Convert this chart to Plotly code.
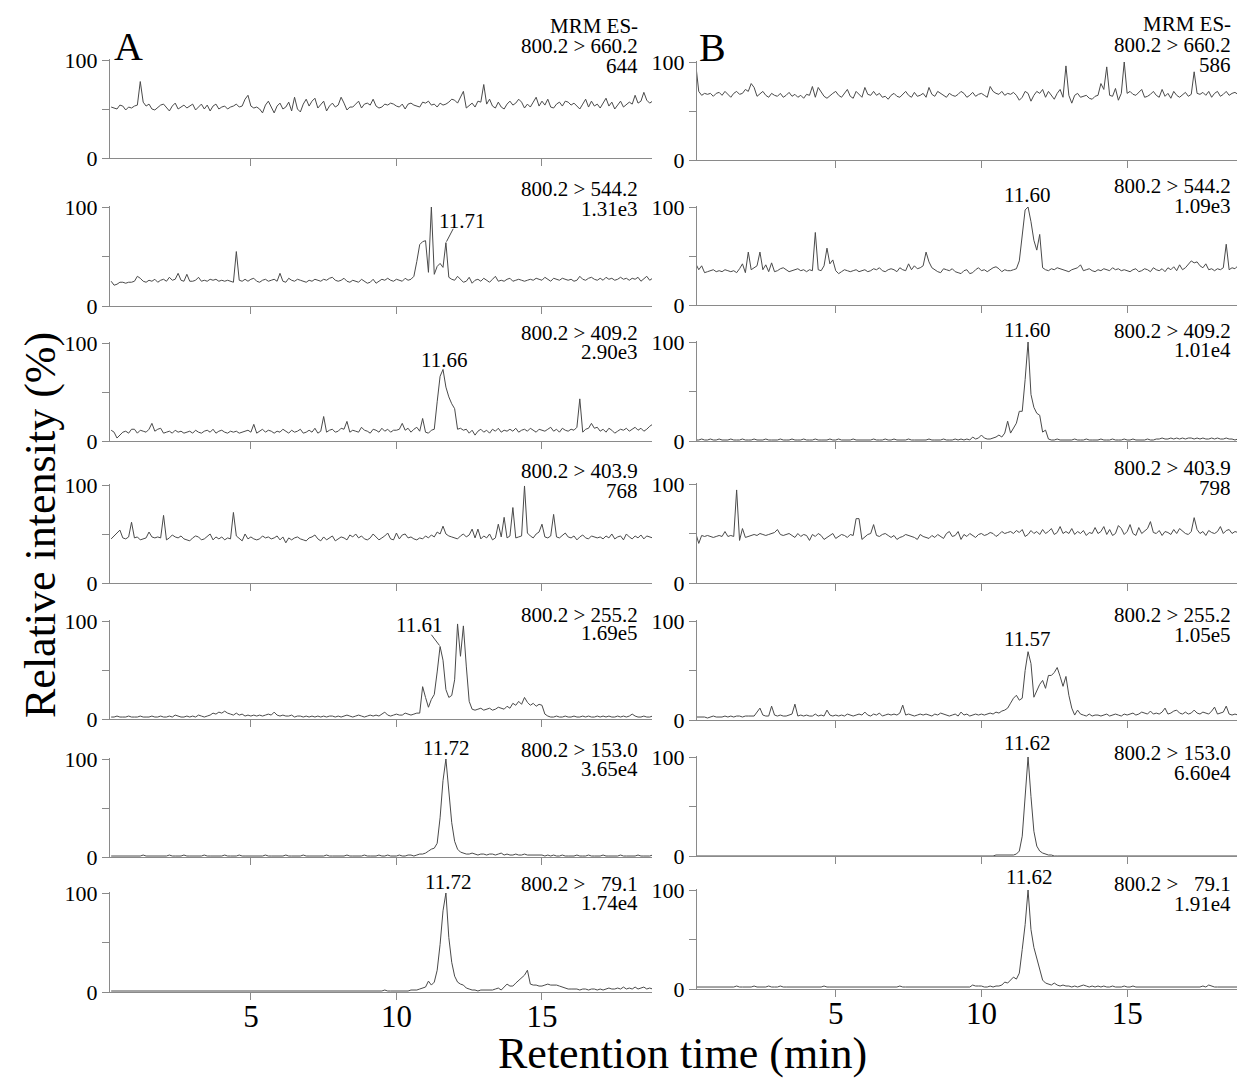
import plotly.graph_objects as go

W, H = 1238, 1080

# sampling times (min), 0.2 .. 18.8 every 0.1 min
TIME = [round(0.2 + 0.1 * i, 1) for i in range(187)]

# ---------------- Column A (relative intensity, %) ----------------
A1 = [52, 51, 50, 54, 53, 49, 52, 51,
      53, 54, 78, 57, 53, 55, 50, 49, 52, 54,
      55, 51, 48, 53, 56, 50, 52, 54, 51, 53,
      55, 49, 52, 55, 50, 54, 48, 53, 55, 50,
      52, 53, 50, 52, 53, 55, 52, 53, 60, 64,
      53, 51, 52, 50, 46, 54, 58, 52, 46, 53,
      56, 50, 52, 57, 48, 62, 50, 47, 55, 60,
      53, 58, 61, 51, 55, 58, 48, 53, 56, 52,
      54, 62, 56, 49, 52, 52, 55, 58, 51, 55,
      56, 54, 60, 53, 51, 52, 55, 54, 56, 55,
      53, 52, 55, 50, 55, 56, 54, 53, 52, 57,
      56, 58, 54, 55, 52, 56, 54, 55, 57, 60,
      59, 56, 62, 68, 51, 54, 56, 52, 58, 57,
      75, 55, 60, 53, 51, 57, 52, 50, 55, 58,
      54, 56, 60, 57, 51, 55, 52, 57, 62, 53,
      58, 54, 60, 52, 51, 55, 57, 53, 58, 57,
      54, 56, 53, 50, 55, 60, 52, 58, 53, 55,
      51, 56, 61, 53, 57, 50, 54, 58, 52, 55,
      57, 55, 64, 56, 58, 67, 59, 56, 58]

A2 = [25, 21, 22, 24, 24, 23, 24, 24,
      25, 30, 28, 25, 24, 26, 25, 27, 24, 26,
      27, 25, 29, 26, 27, 33, 26, 25, 32, 25,
      25, 26, 29, 25, 26, 25, 27, 26, 27, 25,
      26, 25, 26, 25, 24, 55, 26, 25, 27, 25,
      27, 28, 25, 24, 26, 27, 25, 26, 27, 25,
      33, 25, 24, 28, 26, 25, 27, 26, 25, 24,
      26, 25, 27, 26, 25, 27, 26, 28, 29, 26,
      25, 26, 28, 25, 24, 26, 25, 24, 27, 25,
      23, 24, 27, 23, 25, 27, 26, 28, 26, 25,
      27, 26, 25, 28, 26, 27, 30, 45, 62, 65,
      66, 34, 100, 32, 40, 43, 39, 64, 29, 27,
      26, 30, 27, 24, 25, 29, 23, 26, 27, 25,
      28, 26, 24, 27, 30, 25, 26, 25, 27, 28,
      25, 26, 27, 26, 25, 26, 27, 26, 28, 27,
      26, 29, 27, 25, 28, 27, 26, 28, 27, 26,
      27, 25, 26, 30, 27, 26, 28, 29, 27, 26,
      28, 26, 29, 27, 28, 26, 27, 29, 27, 28,
      26, 28, 27, 29, 25, 28, 30, 26, 28]

A3 = [11, 9, 3, 6, 9, 10, 8, 12,
      12, 8, 11, 10, 9, 12, 18, 10, 12, 13,
      8, 9, 10, 8, 11, 9, 10, 8, 9, 10,
      8, 11, 9, 8, 10, 11, 9, 12, 8, 10,
      11, 9, 8, 10, 9, 10, 8, 9, 10, 11,
      9, 17, 8, 10, 12, 9, 11, 10, 8, 10,
      9, 12, 10, 8, 11, 9, 10, 12, 8, 9,
      11, 9, 13, 8, 10, 25, 9, 11, 12, 9,
      10, 13, 12, 20, 9, 11, 10, 9, 14, 11,
      10, 8, 12, 11, 9, 13, 10, 12, 9, 11,
      11, 12, 18, 11, 13, 9, 12, 14, 10, 23,
      9, 8, 11, 12, 40, 66, 73, 55, 45, 38,
      33, 12, 13, 11, 12, 8, 11, 6, 10, 12,
      9, 11, 8, 12, 10, 13, 9, 11, 10, 12,
      10, 13, 9, 11, 12, 10, 13, 11, 9, 12,
      11, 10, 12, 14, 10, 12, 9, 13, 11, 10,
      12, 11, 14, 43, 9, 12, 13, 18, 13, 14,
      10, 12, 9, 13, 11, 8, 10, 12, 11, 13,
      10, 12, 14, 11, 13, 10, 12, 15, 17]

A4 = [45, 48, 50, 54, 46, 45, 47, 62,
      46, 47, 44, 45, 46, 52, 47, 46, 47, 46,
      69, 44, 46, 49, 47, 46, 48, 45, 44, 43,
      46, 48, 47, 44, 45, 48, 50, 44, 47, 45,
      47, 44, 46, 45, 72, 48, 45, 43, 50, 45,
      47, 45, 44, 45, 48, 46, 47, 45, 46, 48,
      44, 47, 41, 46, 44, 46, 47, 45, 44, 43,
      46, 47, 49, 45, 43, 47, 44, 46, 48, 43,
      45, 47, 46, 44, 49, 47, 50, 46, 48, 45,
      44, 46, 50, 47, 44, 46, 48, 51, 45, 44,
      51, 45, 49, 50, 46, 47, 45, 44, 46, 45,
      48, 46, 49, 47, 52, 50, 58, 50, 48, 47,
      46, 45, 48, 50, 47, 49, 55, 46, 55, 45,
      48, 46, 50, 44, 46, 60, 47, 67, 46, 48,
      77, 46, 47, 48, 99, 51, 48, 46, 50, 52,
      60, 47, 46, 48, 70, 47, 46, 49, 51, 47,
      46, 48, 44, 47, 49, 46, 45, 48, 47, 46,
      47, 45, 48, 46, 50, 45, 47, 48, 44, 50,
      47, 45, 48, 46, 49, 45, 48, 47, 46]

A5 = [2, 2, 3, 2, 2, 2, 3, 2,
      2, 2, 3, 2, 2, 2, 3, 2, 2, 3,
      2, 2, 3, 2, 4, 3, 2, 2, 3, 2,
      3, 2, 4, 3, 2, 3, 4, 6, 5, 7,
      6, 8, 6, 5, 4, 6, 4, 5, 3, 4,
      3, 4, 3, 4, 3, 4, 5, 4, 7, 4,
      3, 4, 3, 3, 4, 2, 3, 3, 2, 3,
      2, 3, 2, 3, 2, 3, 2, 3, 3, 2,
      3, 2, 3, 4, 3, 2, 3, 4, 3, 2,
      3, 4, 3, 4, 3, 5, 7, 4, 3, 4,
      5, 4, 4, 6, 5, 4, 5, 6, 6, 33,
      22, 12, 20, 25, 48, 74, 60, 30, 22, 24,
      40, 97, 64, 95, 54, 18, 10, 9, 10, 11,
      9, 10, 11, 9, 10, 12, 11, 10, 13, 11,
      16, 14, 18, 15, 22, 17, 14, 16, 13, 15,
      14, 5, 3, 2, 2, 3, 2, 2, 3, 2,
      2, 3, 2, 2, 3, 2, 3, 2, 2, 3,
      2, 3, 2, 3, 2, 2, 3, 2, 3, 2,
      3, 5, 3, 2, 2, 3, 2, 2, 3]

A6 = [1, 1, 1, 1, 1, 1, 1, 1,
      1, 1, 1, 2, 1, 1, 1, 1, 1, 1,
      1, 1, 2, 1, 1, 1, 1, 2, 1, 1,
      1, 1, 1, 1, 2, 1, 1, 1, 1, 1,
      1, 2, 1, 1, 1, 1, 2, 1, 1, 1,
      1, 1, 1, 1, 1, 2, 1, 1, 1, 1,
      1, 1, 2, 1, 1, 1, 1, 1, 2, 1,
      1, 1, 1, 1, 1, 1, 2, 1, 1, 1,
      1, 1, 1, 2, 1, 1, 1, 1, 1, 2,
      1, 1, 1, 1, 2, 1, 1, 2, 1, 1,
      1, 2, 1, 1, 2, 2, 1, 2, 3, 3,
      4, 6, 8, 9, 14, 40, 78, 100, 70, 35,
      16, 8, 5, 4, 3, 3, 4, 3, 2, 3,
      3, 2, 3, 3, 2, 3, 4, 2, 3, 2,
      2, 3, 2, 2, 3, 2, 2, 2, 2, 2,
      2, 1, 2, 1, 2, 1, 1, 2, 1, 1,
      1, 1, 2, 1, 1, 1, 2, 1, 1, 1,
      1, 2, 1, 1, 1, 1, 1, 2, 1, 1,
      1, 1, 1, 2, 1, 1, 1, 1, 2]

A7 = [1, 1, 1, 1, 1, 1, 1, 1,
      1, 1, 1, 1, 1, 1, 1, 1, 1, 1,
      1, 1, 1, 1, 1, 1, 1, 1, 1, 1,
      1, 1, 1, 1, 1, 1, 1, 1, 1, 1,
      1, 1, 1, 1, 1, 1, 1, 1, 1, 1,
      1, 1, 1, 1, 1, 1, 1, 1, 1, 1,
      1, 1, 1, 1, 1, 1, 1, 1, 1, 1,
      1, 1, 1, 1, 1, 1, 1, 1, 1, 1,
      1, 1, 1, 1, 1, 1, 1, 1, 1, 1,
      1, 1, 1, 1, 1, 1, 2, 1, 1, 1,
      1, 1, 1, 1, 1, 2, 2, 2, 3, 4,
      5, 11, 7, 10, 22, 48, 82, 100, 55, 30,
      16, 10, 8, 7, 4, 3, 2, 2, 1, 2,
      2, 2, 2, 2, 3, 4, 2, 5, 8, 6,
      6, 9, 12, 14, 17, 22, 8, 7, 7, 6,
      6, 7, 8, 7, 7, 7, 6, 5, 4, 3,
      3, 3, 3, 2, 3, 3, 2, 3, 3, 2,
      3, 2, 3, 4, 3, 3, 4, 3, 5, 3,
      4, 3, 5, 3, 4, 5, 3, 4, 3]

# ---------------- Column B (relative intensity, %) ----------------
B1 = [97, 70, 66, 68, 67, 68, 65, 68,
      69, 66, 70, 67, 64, 68, 70, 67, 68, 72,
      70, 78, 74, 65, 68, 70, 66, 64, 68, 66,
      65, 68, 64, 66, 69, 65, 67, 64, 66, 63,
      67, 66, 75, 64, 74, 70, 65, 63, 66, 68,
      70, 66, 64, 68, 72, 65, 63, 70, 67, 64,
      74, 67, 66, 70, 66, 68, 64, 65, 62, 66,
      68, 65, 64, 67, 70, 66, 64, 69, 65, 66,
      68, 64, 74, 67, 65, 70, 68, 66, 64, 68,
      66, 65, 67, 70, 68, 64, 66, 69, 65, 67,
      68, 66, 64, 75, 70, 68, 67, 70, 66, 68,
      67, 69, 66, 61, 64, 70, 68, 60, 66, 70,
      68, 72, 64, 70, 66, 62, 68, 72, 64, 96,
      66, 58, 66, 68, 64, 65, 66, 63, 62, 65,
      66, 78, 72, 95, 66, 65, 73, 61, 68, 100,
      68, 70, 67, 66, 69, 72, 64, 65, 67, 70,
      66, 64, 72, 65, 68, 63, 70, 66, 64, 67,
      69, 65, 67, 90, 68, 67, 69, 66, 70, 64,
      68, 70, 65, 67, 70, 66, 68, 69, 67]

B2 = [42, 36, 40, 33, 34, 35, 36, 34,
      35, 34, 36, 35, 34, 35, 33, 37, 42, 33,
      54, 36, 38, 40, 54, 36, 41, 34, 43, 34,
      35, 37, 38, 36, 34, 35, 36, 37, 35, 36,
      34, 36, 35, 74, 36, 35, 40, 58, 42, 46,
      35, 32, 34, 36, 35, 34, 35, 36, 34, 35,
      36, 34, 35, 37, 36, 38, 35, 34, 36, 37,
      36, 34, 38, 36, 35, 42, 36, 40, 37, 38,
      40, 54, 44, 38, 36, 34, 33, 37, 36, 35,
      37, 34, 33, 32, 35, 36, 32, 33, 36, 38,
      35, 36, 34, 36, 38, 39, 37, 34, 36, 35,
      35, 36, 37, 45, 70, 97, 100, 85, 66, 56,
      72, 38, 36, 35, 37, 36, 38, 37, 36, 35,
      34, 36, 37, 38, 41, 35, 36, 37, 35, 34,
      36, 35, 37, 36, 35, 38, 36, 37, 35, 36,
      35, 34, 36, 37, 34, 35, 37, 36, 34, 38,
      36, 35, 37, 34, 38, 36, 39, 35, 41, 36,
      38, 42, 45, 43, 44, 40, 38, 42, 36, 37,
      35, 37, 36, 38, 62, 36, 38, 37, 40]

B3 = [1, 1, 2, 1, 1, 2, 1, 1,
      2, 1, 1, 1, 2, 1, 1, 1, 2, 1,
      1, 1, 2, 1, 1, 1, 2, 1, 1, 1,
      1, 2, 1, 1, 1, 2, 1, 1, 1, 2,
      1, 1, 1, 2, 1, 1, 1, 1, 2, 1,
      1, 2, 1, 1, 1, 1, 2, 1, 1, 1,
      1, 1, 1, 2, 1, 1, 1, 2, 1, 1,
      2, 1, 1, 1, 1, 2, 1, 1, 1, 1,
      1, 1, 2, 1, 1, 1, 1, 2, 1, 1,
      1, 2, 1, 2, 1, 2, 1, 4, 2, 3,
      6, 3, 2, 2, 3, 4, 6, 4, 8, 20,
      8, 13, 18, 30, 30, 62, 100, 47, 34, 28,
      26, 9, 11, 2, 1, 1, 2, 1, 1, 1,
      1, 1, 2, 1, 1, 1, 2, 1, 1, 1,
      1, 2, 1, 1, 1, 2, 1, 1, 1, 2,
      1, 1, 2, 1, 1, 1, 1, 2, 1, 1,
      2, 2, 3, 2, 2, 3, 2, 3, 2, 3,
      2, 3, 3, 2, 3, 2, 3, 2, 2, 3,
      2, 3, 2, 2, 3, 2, 2, 1, 2]

B4 = [50, 40, 48, 47, 48, 47, 46, 47,
      48, 47, 52, 47, 48, 47, 94, 43, 55, 46,
      47, 48, 49, 48, 50, 49, 48, 49, 50, 51,
      54, 49, 48, 49, 50, 48, 46, 50, 47, 49,
      48, 43, 49, 47, 50, 48, 44, 46, 48, 50,
      45, 47, 49, 48, 46, 49, 48, 65, 65, 44,
      47, 49, 50, 59, 48, 47, 49, 50, 48, 46,
      48, 44, 46, 47, 49, 48, 47, 46, 44, 49,
      47, 46, 45, 48, 46, 49, 47, 45, 50, 52,
      47, 48, 52, 44, 49, 47, 50, 48, 46, 49,
      50, 48, 49, 51, 50, 47, 49, 52, 50, 51,
      52, 50, 53, 51, 54, 47, 49, 53, 50, 52,
      49, 54, 50, 52, 55, 49, 51, 57, 50, 52,
      50, 55, 49, 52, 50, 53, 48, 51, 50, 56,
      50, 52, 57, 49, 54, 48, 50, 58, 55, 49,
      52, 59, 50, 48, 56, 50, 53, 55, 62, 51,
      50, 53, 48, 52, 51, 49, 54, 50, 55, 52,
      50, 49, 52, 66, 54, 50, 52, 48, 53, 51,
      50, 52, 57, 50, 53, 54, 50, 52, 51]

B5 = [3, 3, 3, 3, 2, 3, 4, 3,
      3, 3, 4, 3, 4, 3, 4, 4, 3, 4,
      4, 4, 4, 8, 12, 5, 4, 4, 14, 5,
      4, 5, 4, 4, 5, 6, 16, 4, 5, 4,
      5, 4, 4, 6, 4, 5, 4, 10, 5, 4,
      5, 4, 5, 4, 6, 5, 4, 5, 6, 5,
      8, 5, 4, 6, 5, 7, 4, 5, 6, 5,
      6, 5, 7, 15, 5, 6, 5, 4, 5, 6,
      5, 6, 5, 4, 6, 5, 7, 6, 5, 4,
      5, 6, 4, 8, 5, 6, 4, 5, 6, 5,
      6, 5, 6, 7, 6, 8, 7, 9, 10, 12,
      17, 22, 25, 20, 22, 50, 69, 57, 23, 30,
      36, 40, 32, 45, 45, 48, 53, 44, 34, 44,
      25, 12, 5, 10, 6, 5, 4, 6, 4, 5,
      5, 4, 5, 6, 4, 5, 6, 5, 4, 6,
      5, 6, 7, 5, 6, 8, 7, 6, 9, 6,
      7, 6, 8, 12, 6, 7, 9, 10, 7, 6,
      8, 6, 7, 10, 7, 6, 8, 7, 6, 9,
      13, 6, 7, 8, 14, 6, 5, 6, 5]

B6 = [0, 0, 0, 0, 0, 0, 0, 0,
      0, 0, 0, 0, 0, 0, 0, 0, 0, 0,
      0, 0, 0, 0, 0, 0, 0, 0, 0, 0,
      0, 0, 0, 0, 0, 0, 0, 0, 0, 0,
      0, 0, 0, 0, 0, 0, 0, 0, 0, 0,
      0, 0, 0, 0, 0, 0, 0, 0, 0, 0,
      0, 0, 0, 0, 0, 0, 0, 0, 0, 0,
      0, 0, 0, 0, 0, 0, 0, 0, 0, 0,
      0, 0, 0, 0, 0, 0, 0, 0, 0, 0,
      0, 0, 0, 0, 0, 0, 0, 0, 0, 0,
      0, 0, 0, 0, 0, 1, 1, 1, 1, 1,
      1, 1, 2, 5, 20, 65, 100, 60, 25, 10,
      5, 3, 2, 1, 1, 0, 0, 0, 0, 0,
      0, 0, 0, 0, 0, 0, 0, 0, 0, 0,
      0, 0, 0, 0, 0, 0, 0, 0, 0, 0,
      0, 0, 0, 0, 0, 0, 0, 0, 0, 0,
      0, 0, 0, 0, 0, 0, 0, 0, 0, 0,
      0, 0, 0, 0, 0, 0, 0, 0, 0, 0,
      0, 0, 0, 0, 0, 0, 0, 0, 0]

B7 = [2, 2, 2, 2, 2, 2, 2, 2,
      2, 2, 2, 2, 2, 2, 3, 2, 2, 2,
      2, 2, 3, 2, 2, 2, 2, 3, 2, 2,
      2, 3, 2, 2, 2, 2, 2, 2, 2, 2,
      2, 2, 2, 2, 2, 2, 3, 2, 2, 2,
      2, 2, 2, 2, 2, 2, 2, 2, 2, 2,
      2, 2, 2, 2, 2, 2, 2, 2, 2, 2,
      2, 2, 3, 2, 2, 2, 2, 2, 2, 2,
      2, 2, 2, 2, 2, 2, 2, 2, 2, 2,
      2, 2, 2, 2, 2, 2, 2, 4, 3, 3,
      3, 2, 2, 3, 2, 3, 3, 4, 7, 6,
      9, 12, 10, 16, 40, 65, 100, 60, 42, 30,
      20, 9, 6, 5, 4, 6, 4, 3, 4, 3,
      3, 2, 3, 2, 3, 4, 3, 2, 3, 2,
      3, 2, 3, 2, 2, 3, 2, 2, 2, 3,
      2, 2, 3, 2, 2, 2, 2, 2, 2, 2,
      2, 2, 2, 2, 2, 2, 2, 2, 2, 2,
      2, 2, 2, 2, 2, 2, 3, 2, 4, 3,
      2, 2, 2, 2, 2, 2, 2, 2, 2]

TRANSITIONS = ["800.2 > 660.2", "800.2 > 544.2", "800.2 > 409.2", "800.2 > 403.9",
               "800.2 > 255.2", "800.2 > 153.0", "800.2 > \u00a0\u00a079.1"]
INTENS_A = ["644", "1.31e3", "2.90e3", "768", "1.69e5", "3.65e4", "1.74e4"]
INTENS_B = ["586", "1.09e3", "1.01e4", "798", "1.05e5", "6.60e4", "1.91e4"]
PEAKS_A = [None, "11.71", "11.66", None, "11.61", "11.72", "11.72"]
PEAKS_B = [None, "11.60", "11.60", None, "11.57", "11.62", "11.62"]
X_TICKS = [5, 10, 15]

SERIES_A = [A1, A2, A3, A4, A5, A6, A7]
SERIES_B = [B1, B2, B3, B4, B5, B6, B7]
for s in SERIES_A + SERIES_B:
    assert len(s) == len(TIME), len(s)

# ---------------- layout (pixel geometry) ----------------
FONT = "Liberation Serif"
LINE_C = "#4a4a4a"
AXIS_C = "#8a8a8a"

COLS = {
    "A": dict(x=(110, 652), xr=[0.16, 18.78], right=640,
              rows=[(158, 60), (306, 207), (441, 343), (583, 485), (719, 621), (857, 759), (992, 893)],
              txt=[(46, 66), (189, 209), (333, 352), (471, 491), (615, 633), (750, 769), (884, 903)],
              peak=[None, (12.25, 221), (11.62, 360), None, (10.77, 625), (11.72, 748), (11.76, 882)],
              series=SERIES_A, intens=INTENS_A, peaks=PEAKS_A, mrm_y=26, letter="A", letter_xy=(128, 46)),
    "B": dict(x=(697, 1237), xr=[0.24, 18.77], right=1233,
              rows=[(160, 62), (305, 207), (441, 342), (583, 484), (720, 621), (856, 757), (989, 890)],
              txt=[(45, 65), (186, 206), (331, 350), (468, 488), (615, 635), (753, 773), (884, 904)],
              peak=[None, (11.56, 195), (11.56, 330), None, (11.57, 639), (11.58, 743), (11.64, 877)],
              series=SERIES_B, intens=INTENS_B, peaks=PEAKS_B, mrm_y=24, letter="B", letter_xy=(712, 48)),
}

fig = go.Figure()
layout = {}
annotations = []
shapes = []


def py(p):
    return 1 - p / H


k = 0
for name, c in COLS.items():
    for r in range(7):
        k += 1
        xn = "x" if k == 1 else f"x{k}"
        yn = "y" if k == 1 else f"y{k}"
        y0, y100 = c["rows"][r]
        top = y0 - 1.01 * (y0 - y100)
        fig.add_trace(go.Scatter(x=TIME, y=c["series"][r], mode="lines",
                                 line=dict(color=LINE_C, width=1),
                                 xaxis=xn, yaxis=yn, showlegend=False, hoverinfo="skip"))
        layout["xaxis" if k == 1 else f"xaxis{k}"] = dict(
            domain=[c["x"][0] / W, c["x"][1] / W], range=c["xr"], anchor=yn,
            showline=True, linecolor=AXIS_C, linewidth=1, showgrid=False, zeroline=False,
            ticks="outside", ticklen=7, tickcolor=AXIS_C, tickwidth=1,
            tickvals=X_TICKS, showticklabels=(r == 6), automargin=False,
            ticklabelstandoff=-10,
            tickfont=dict(family=FONT, size=31, color="black"), fixedrange=True)
        layout["yaxis" if k == 1 else f"yaxis{k}"] = dict(
            domain=[py(y0), py(top)], range=[0, 101], anchor=xn,
            showline=True, linecolor=AXIS_C, linewidth=1, showgrid=False, zeroline=False,
            ticks="outside", ticklen=7, tickcolor=AXIS_C, tickwidth=1,
            tickvals=[0, 50, 100], ticktext=["0", "", "100"], automargin=False,
            tickfont=dict(family=FONT, size=22, color="black"), fixedrange=True)

        # transition / intensity text
        ty1, ty2 = c["txt"][r]
        annotations.append(dict(text=TRANSITIONS[r], xref="paper", yref="paper",
                                x=c["right"] / W, y=py(ty1), xanchor="right", yanchor="middle",
                                showarrow=False, font=dict(family=FONT, size=21, color="black")))
        annotations.append(dict(text=c["intens"][r], xref="paper", yref="paper",
                                x=c["right"] / W, y=py(ty2), xanchor="right", yanchor="middle",
                                showarrow=False, font=dict(family=FONT, size=21, color="black")))
        if r == 0:
            annotations.append(dict(text="MRM ES-", xref="paper", yref="paper",
                                    x=c["right"] / W, y=py(c["mrm_y"]), xanchor="right",
                                    yanchor="middle", showarrow=False,
                                    font=dict(family=FONT, size=21, color="black")))
        if c["peaks"][r]:
            px_, pyy = c["peak"][r]
            annotations.append(dict(text=c["peaks"][r], xref=xn, yref="paper",
                                    x=px_, y=py(pyy), xanchor="center", yanchor="middle",
                                    showarrow=False, font=dict(family=FONT, size=21, color="black")))

# leader lines for labels not directly above their peak
shapes.append(dict(type="line", xref="x2", yref="y2", x0=11.95, y0=78, x1=11.72, y1=65,
                   line=dict(color=LINE_C, width=1)))
shapes.append(dict(type="line", xref="x5", yref="y5", x0=11.2, y0=86, x1=11.48, y1=75,
                   line=dict(color=LINE_C, width=1)))

# panel letters
for name, c in COLS.items():
    lx, ly = c["letter_xy"]
    annotations.append(dict(text=c["letter"], xref="paper", yref="paper", x=lx / W, y=py(ly),
                            xanchor="center", yanchor="middle", showarrow=False,
                            font=dict(family=FONT, size=40, color="black")))

# axis titles
annotations.append(dict(text="Relative intensity (%)", xref="paper", yref="paper",
                        x=40 / W, y=py(525), xanchor="center", yanchor="middle",
                        textangle=-90, showarrow=False,
                        font=dict(family=FONT, size=44, color="black")))
annotations.append(dict(text="Retention time (min)", xref="paper", yref="paper",
                        x=682 / W, y=py(1053), xanchor="center", yanchor="middle",
                        showarrow=False, font=dict(family=FONT, size=44, color="black")))

fig.update_layout(**layout)
fig.update_layout(width=W, height=H, margin=dict(l=0, r=0, t=0, b=0, pad=0, autoexpand=False),
                  paper_bgcolor="white", plot_bgcolor="white",
                  font=dict(family=FONT, color="black"),
                  annotations=annotations, shapes=shapes, showlegend=False)

fig.write_html("out.html", config={"displayModeBar": False},
               post_script="document.body.style.margin='0';document.body.style.overflow='hidden';")
